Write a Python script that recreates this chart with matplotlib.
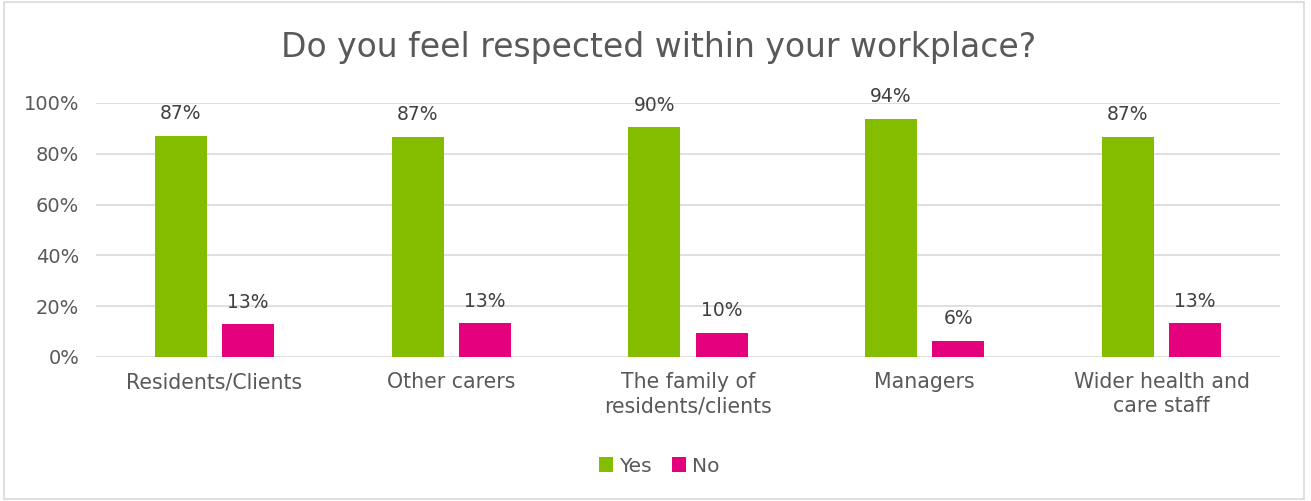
import matplotlib.pyplot as plt
import numpy as np
from matplotlib.patches import Rectangle

categories = ["Residents/Clients", "Other carers", "The family of\nresidents/clients",
              "Managers", "Wider health and\ncare staff"]
yes_vals = [87.2, 86.7, 90.4, 93.7, 86.7]
no_vals = [12.8, 13.3, 9.6, 6.3, 13.3]

green = "#84bd00"
pink = "#e5007e"
grey_txt = "#595959"

plt.rcParams['font.family'] = ['DejaVu Sans']

fig = plt.figure(figsize=(13.11, 5.01), dpi=100)
fig.patches.append(Rectangle((0.003, 0.004), 0.992, 0.992, transform=fig.transFigure,
                             fill=False, edgecolor="#d9d9d9", linewidth=1.2))
ax = fig.add_axes([96 / 1311, 1 - 357 / 501, 1184 / 1311, 254 / 501])

x = np.arange(len(categories))
w = 0.22
b1 = ax.bar(x - 0.142, yes_vals, w, color=green, label="Yes", zorder=3)
b2 = ax.bar(x + 0.142, no_vals, w, color=pink, label="No", zorder=3)

# value labels above each bar
for bars, vals in ((b1, yes_vals), (b2, no_vals)):
    for r, v in zip(bars, vals):
        ax.text(r.get_x() + r.get_width() / 2, v + 5, f"{v:.0f}%", ha="center", va="bottom",
                fontsize=13.5, color="#404040")

ax.set_xlim(-0.5, len(categories) - 0.5)
ax.set_ylim(0, 100)
ax.set_yticks(range(0, 101, 20))
ax.set_yticklabels([f"{t}%" for t in range(0, 101, 20)])
ax.set_xticks(x)
ax.set_xticklabels(categories, linespacing=1.25)
ax.tick_params(axis="both", length=0, labelsize=14, labelcolor=grey_txt)
ax.tick_params(axis="x", labelsize=14.8, pad=11)
ax.tick_params(axis="y", pad=12)
ax.grid(axis="y", color="#d9d9d9", linewidth=1.2, zorder=0)
for s in ax.spines.values():
    s.set_visible(False)

fig.text(0.502, 1 - 48 / 501, "Do you feel respected within your workplace?", ha="center", va="center",
         fontsize=23.8, color=grey_txt)

fig.legend(loc="center", bbox_to_anchor=(0.503, 1 - 466 / 501), ncol=2, frameon=False,
           fontsize=14.5, labelcolor=grey_txt, handlelength=0.7, handleheight=0.7,
           handletextpad=0.3, columnspacing=1.0)

fig.savefig("out.png", dpi=100)
